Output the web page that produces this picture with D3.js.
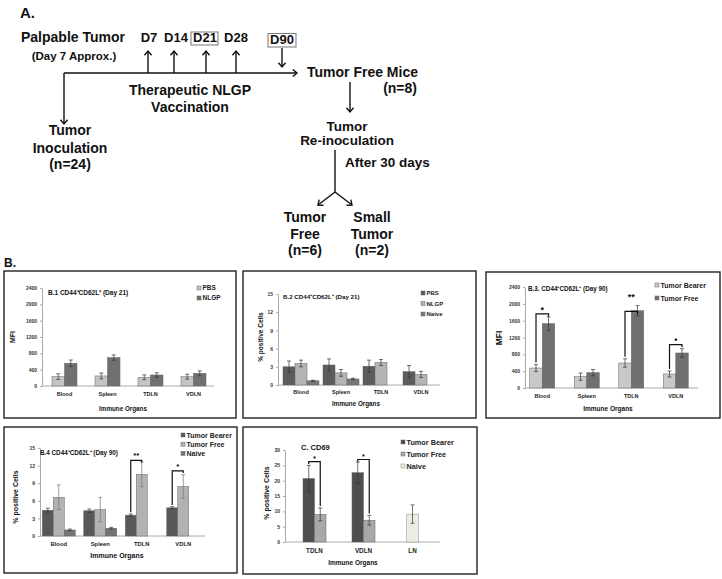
<!DOCTYPE html>
<html>
<head>
<meta charset="utf-8">
<script src="https://cdn.jsdelivr.net/npm/d3@7"></script>
<style>
  body { margin: 0; background: #fff; }
  svg { display: block; }
  text { font-family: "Liberation Sans", Arial, sans-serif; font-weight: bold; }
</style>
</head>
<body>
<svg id="fig" width="722" height="579"></svg>
<script>
// ---- data ----
const organs = ["Blood", "Spleen", "TDLN", "VDLN"];
const cd69Organs = ["TDLN", "VDLN", "LN"];

// B.1 MFI, day 21
const b1PBS = [230, 246, 213, 229];
const b1PBSErr = [70, 70, 60, 60];
const b1NLGP = [557, 696, 270, 311];
const b1NLGPErr = [80, 65, 55, 60];

// B.2 % positive, day 21
const b2PBS = [3.0, 3.3, 3.1, 2.2];
const b2PBSErr = [0.95, 1.0, 1.0, 1.0];
const b2NLGP = [3.55, 2.0, 3.7, 1.75];
const b2NLGPErr = [0.55, 0.55, 0.5, 0.5];
const b2Naive = [0.7, 1.0, null, null];
const b2NaiveErr = [0.1, 0.12, null, null];

// B.3 MFI, day 90
const b3Bearer = [475, 269, 594, 333];
const b3BearerErr = [80, 87, 100, 72];
const b3Free = [1529, 364, 1837, 832];
const b3FreeErr = [160, 75, 120, 100];
const b3Sig = ["*", "", "**", "\u2022"];
const b3SigTop = [1760, null, 1820, 1030];
const b3SigLabelAt = [1790, null, 2090, 1060];

// B.4 % positive, day 90
const b4Bearer = [4.4, 4.3, 3.55, 4.8];
const b4BearerErr = [0.35, 0.3, 0.2, 0.2];
const b4Free = [6.6, 4.5, 10.5, 8.45];
const b4FreeErr = [2.1, 2.1, 2.1, 2.0];
const b4Naive = [1.03, 1.32, null, null];
const b4NaiveErr = [0.15, 0.15, null, null];
const b4Sig = ["", "", "**", "*"];
const b4SigTop = [null, null, 12.9, 11.1];
const b4SigLabelAt = [null, null, 13.3, 11.5];

// C CD69 % positive
const cBearer = [20.7, 22.6, null];
const cBearerErr = [4.3, 3.5, null];
const cFree = [9.0, 7.1, null];
const cFreeErr = [2.1, 1.6, null];
const cNaive = [null, null, 9.1];
const cNaiveErr = [null, null, 3.0];
const cSig = ["*", "*", ""];
const cSigTop = [26.2, 26.9, null];
const cSigLabelAt = [26.5, 27.2, null];

const svg = d3.select("#fig");

// ---------- panel A : timeline ----------
const A = svg.append("g");
function txt(x, y, s, fs, anchor) {
  return A.append("text").attr("x", x).attr("y", y).attr("font-size", fs)
    .attr("text-anchor", anchor || "start").attr("fill", "#111").text(s);
}
function arrow(x1, y1, x2, y2, head) {
  A.append("line").attr("x1", x1).attr("y1", y1).attr("x2", x2).attr("y2", y2)
    .attr("stroke", "#111").attr("stroke-width", 1.4);
  if (head === false) return;
  const ang = Math.atan2(y2 - y1, x2 - x1), L = 5.5, w = 0.7;
  const pts = [[x2 - L * Math.cos(ang - w), y2 - L * Math.sin(ang - w)], [x2, y2],
               [x2 - L * Math.cos(ang + w), y2 - L * Math.sin(ang + w)]];
  A.append("path").attr("d", d3.line()(pts)).attr("fill", "none")
    .attr("stroke", "#111").attr("stroke-width", 1.4);
}

txt(20, 18, "A.", 15);
txt(21, 42, "Palpable Tumor", 14);
txt(74, 60, "(Day 7 Approx.)", 11.5, "middle");

arrow(64, 73, 297, 73);
arrow(64, 73, 64, 124);
[148, 174, 206, 236].forEach(x => arrow(x, 73, x, 51));
arrow(282, 48, 282, 67);

const vaccDays = ["D7", "D14", "D21", "D28"];
[149, 176, 205, 236].forEach((x, i) => txt(x, 42, vaccDays[i], 13, "middle"));
A.append("rect").attr("x", 191).attr("y", 32).attr("width", 27).attr("height", 13)
  .attr("fill", "none").attr("stroke", "#777").attr("stroke-width", 1);
txt(282, 44, "D90", 13, "middle");
A.append("rect").attr("x", 268).attr("y", 33.5).attr("width", 28).attr("height", 13.5)
  .attr("fill", "none").attr("stroke", "#777").attr("stroke-width", 1);

txt(190, 95, "Therapeutic NLGP", 14, "middle");
txt(190, 112, "Vaccination", 14, "middle");

txt(70, 135, "Tumor", 14, "middle");
txt(70, 153, "Inoculation", 14, "middle");
txt(70, 169, "(n=24)", 14, "middle");

txt(307, 77, "Tumor Free Mice", 14);
txt(417, 93, "(n=8)", 14, "end");
arrow(350, 82, 350, 112);
txt(347, 131, "Tumor", 13.5, "middle");
txt(347, 145, "Re-inoculation", 13.5, "middle");
arrow(335, 150, 335, 192, false);
txt(345, 167, "After 30 days", 13.5);
arrow(335, 192, 318, 205);
arrow(335, 192, 352, 205);

txt(305, 222, "Tumor", 14, "middle");
txt(305, 239, "Free", 14, "middle");
txt(305, 255, "(n=6)", 14, "middle");
txt(372, 222, "Small", 14, "middle");
txt(372, 239, "Tumor", 14, "middle");
txt(372, 255, "(n=2)", 14, "middle");

txt(4, 267, "B.", 12);

// ---------- bar panels ----------
function barPanel(o) {
  const g = svg.append("g");
  g.append("rect").attr("x", o.box[0]).attr("y", o.box[1])
    .attr("width", o.box[2] - o.box[0]).attr("height", o.box[3] - o.box[1])
    .attr("fill", "none").attr("stroke", "#222").attr("stroke-width", 1.4);

  const x = d3.scaleBand().domain(o.cats).range(o.band);
  const y = d3.scaleLinear().domain([0, o.yMax]).range([o.y0, o.y1]);
  const ns = o.series.length;

  const ya = g.append("g").attr("transform", `translate(${o.ax},0)`)
    .call(d3.axisLeft(y).tickValues(o.ticks).tickFormat(d3.format("d"))
      .tickSize(2).tickSizeOuter(0).tickPadding(3))
    .attr("font-size", o.tickFs).attr("color", "#333");
  ya.select(".domain").attr("stroke", "#aaa");
  ya.selectAll(".tick line").attr("stroke", "#aaa");

  g.append("line").attr("x1", o.ax).attr("x2", o.xEnd).attr("y1", y(0)).attr("y2", y(0))
    .attr("stroke", "#aaa").attr("stroke-width", 1);
  const xa = g.append("g").attr("transform", `translate(0,${y(0)})`)
    .call(d3.axisBottom(x).tickSize(0).tickPadding(o.catPad))
    .attr("font-size", o.catFs).attr("color", "#222");
  xa.select(".domain").remove();

  // bar slot position
  function barX(ci, si) {
    const c = x(o.cats[ci]) + x.bandwidth() / 2;
    if (o.compact) {
      const present = o.series.map((s, k) => k).filter(k => o.series[k].values[ci] != null);
      const idx = present.indexOf(si);
      return c - present.length * o.bw / 2 + idx * o.bw;
    }
    return c - ns * o.bw / 2 + si * o.bw;
  }

  o.series.forEach((s, si) => {
    const pts = o.cats.map((c, ci) => ({ ci, v: s.values[ci], e: s.errors[ci] }))
      .filter(d => d.v != null);
    g.selectAll(null).data(pts).join("rect")
      .attr("x", d => barX(d.ci, si)).attr("width", o.bw)
      .attr("y", d => y(d.v)).attr("height", d => y(0) - y(d.v))
      .attr("fill", s.color).attr("stroke", s.stroke || "#666").attr("stroke-width", 0.5);
    const eb = g.selectAll(null).data(pts).join("g")
      .attr("stroke", s.errColor || "#333").attr("stroke-width", 0.7);
    eb.append("line").attr("x1", d => barX(d.ci, si) + o.bw / 2).attr("x2", d => barX(d.ci, si) + o.bw / 2)
      .attr("y1", d => y(d.v - d.e)).attr("y2", d => y(d.v + d.e));
    eb.append("line").attr("x1", d => barX(d.ci, si) + o.bw / 2 - 2).attr("x2", d => barX(d.ci, si) + o.bw / 2 + 2)
      .attr("y1", d => y(d.v + d.e)).attr("y2", d => y(d.v + d.e));
    eb.append("line").attr("x1", d => barX(d.ci, si) + o.bw / 2 - 2).attr("x2", d => barX(d.ci, si) + o.bw / 2 + 2)
      .attr("y1", d => y(d.v - d.e)).attr("y2", d => y(d.v - d.e));
  });

  // significance brackets: long leg on series `from`, short leg on series `to`
  if (o.sig) {
    o.sig.labels.forEach((lab, ci) => {
      const top = o.sig.tops[ci];
      if (top == null) return;
      const a = o.series[o.sig.from];
      const xa0 = barX(ci, o.sig.from) + o.bw / 2, xb0 = barX(ci, o.sig.to) + o.bw / 2;
      const legBottom = a.values[ci] + a.errors[ci] + o.yMax * 0.02;
      const shortBottom = top - o.yMax * 0.025;
      g.append("path")
        .attr("d", d3.line()([[xa0, y(legBottom)], [xa0, y(top)], [xb0, y(top)], [xb0, y(shortBottom)]]))
        .attr("fill", "none").attr("stroke", "#111").attr("stroke-width", 1.2);
      g.append("text").attr("x", (xa0 + xb0) / 2).attr("y", y(o.sig.at[ci]))
        .attr("text-anchor", "middle").attr("font-size", o.sig.fs).attr("fill", "#111").text(lab);
    });
  }

  g.append("text").attr("x", o.title[0]).attr("y", o.title[1]).attr("font-size", o.titleFs)
    .attr("fill", "#111").text(o.titleText);

  o.series.forEach((s, i) => {
    const ly = o.legend[1] + i * o.legend[2];
    g.append("rect").attr("x", o.legend[0]).attr("y", ly - 2).attr("width", 4).attr("height", 4)
      .attr("fill", s.color).attr("stroke", s.stroke || "#666").attr("stroke-width", 0.5);
    g.append("text").attr("x", o.legend[0] + 5.5).attr("y", ly + o.legendFs * 0.36)
      .attr("font-size", o.legendFs).attr("fill", "#222").text(s.name);
  });

  g.append("text").attr("transform", `translate(${o.yLabel[0]},${o.yLabel[1]}) rotate(-90)`)
    .attr("text-anchor", "middle").attr("font-size", o.yLabelFs).attr("fill", "#111").text(o.yLabelText);
  g.append("text").attr("x", o.xLabel[0]).attr("y", o.xLabel[1]).attr("text-anchor", "middle")
    .attr("font-size", o.xLabelFs).attr("fill", "#111").text("Immune Organs");
}

const ticksMFI = d3.range(0, 2401, 400);
const ticksPct = d3.range(0, 16, 3);

barPanel({
  box: [4, 271, 236, 418], ax: 42, band: [43, 215], xEnd: 214, y0: 386, y1: 288, yMax: 2400,
  ticks: ticksMFI, tickFs: 5, cats: organs, catFs: 5.5, catPad: 6, bw: 12.5,
  series: [
    { name: "PBS", color: "#c4c4c4", values: b1PBS, errors: b1PBSErr },
    { name: "NLGP", color: "#707070", values: b1NLGP, errors: b1NLGPErr }
  ],
  titleText: "B.1 CD44\u207ACD62L\u207A (Day 21)", title: [48, 295], titleFs: 6.5,
  legend: [197, 288, 10], legendFs: 6.5,
  yLabelText: "MFI", yLabel: [15, 337], yLabelFs: 7,
  xLabel: [123, 411], xLabelFs: 6.3
});

barPanel({
  box: [243, 271, 476, 418], ax: 278, band: [281, 441], xEnd: 440, y0: 385, y1: 294, yMax: 15,
  ticks: ticksPct, tickFs: 5, cats: organs, catFs: 5.5, catPad: 5, bw: 12,
  series: [
    { name: "PBS", color: "#5c5c5c", values: b2PBS, errors: b2PBSErr },
    { name: "NLGP", color: "#b4b4b4", values: b2NLGP, errors: b2NLGPErr },
    { name: "Naive", color: "#787878", values: b2Naive, errors: b2NaiveErr }
  ],
  titleText: "B.2 CD44\u207ACD62L\u207A  (Day 21)", title: [283, 299], titleFs: 6.2,
  legend: [421, 293, 10.5], legendFs: 6,
  yLabelText: "% positive Cells", yLabel: [263, 337], yLabelFs: 6.5,
  xLabel: [356, 406], xLabelFs: 6.3
});

barPanel({
  box: [486, 272, 720, 418], ax: 525, band: [520, 698], xEnd: 698, y0: 388, y1: 287, yMax: 2400,
  ticks: ticksMFI, tickFs: 5, cats: organs, catFs: 5.5, catPad: 6.5, bw: 12.5,
  series: [
    { name: "Tumor Bearer", color: "#c8c8c8", values: b3Bearer, errors: b3BearerErr },
    { name: "Tumor Free", color: "#707070", values: b3Free, errors: b3FreeErr }
  ],
  sig: { labels: b3Sig, tops: b3SigTop, at: b3SigLabelAt, from: 0, to: 1, fs: 9 },
  titleText: "B.3. CD44\u207ACD62L\u207A (Day 90)", title: [528, 291], titleFs: 6.3,
  legend: [655, 285, 13], legendFs: 7,
  yLabelText: "MFI", yLabel: [502, 338], yLabelFs: 8.5,
  xLabel: [608, 411], xLabelFs: 6.5
});

barPanel({
  box: [4, 427, 237, 573], ax: 40, band: [38, 204], xEnd: 205, y0: 536, y1: 448, yMax: 15,
  ticks: ticksPct, tickFs: 5, cats: organs, catFs: 5.8, catPad: 5.5, bw: 11,
  series: [
    { name: "Tumor Bearer", color: "#585858", values: b4Bearer, errors: b4BearerErr },
    { name: "Tumor Free", color: "#b2b2b2", values: b4Free, errors: b4FreeErr, errColor: "#777" },
    { name: "Naive", color: "#747474", values: b4Naive, errors: b4NaiveErr }
  ],
  sig: { labels: b4Sig, tops: b4SigTop, at: b4SigLabelAt, from: 0, to: 1, fs: 8 },
  titleText: "B.4 CD44\u207ACD62L\u207A  (Day 90)", title: [40, 455], titleFs: 6.3,
  legend: [181, 435, 9.2], legendFs: 7,
  yLabelText: "% positive Cells", yLabel: [18, 497], yLabelFs: 7,
  xLabel: [117, 558], xLabelFs: 7
});

barPanel({
  box: [243, 427, 477, 574], ax: 285, band: [290, 437], xEnd: 440, y0: 542, y1: 450, yMax: 30,
  ticks: d3.range(0, 31, 5), tickFs: 5, cats: cd69Organs, catFs: 6.3, catPad: 6.5, bw: 11.5, compact: true,
  series: [
    { name: "Tumor Bearer", color: "#4e4e4e", values: cBearer, errors: cBearerErr },
    { name: "Tumor Free", color: "#a8a8a8", values: cFree, errors: cFreeErr },
    { name: "Naive", color: "#eeece1", stroke: "#888", values: cNaive, errors: cNaiveErr }
  ],
  sig: { labels: cSig, tops: cSigTop, at: cSigLabelAt, from: 1, to: 0, fs: 7.5 },
  titleText: "C. CD69", title: [301, 450], titleFs: 7.5,
  legend: [401, 442, 12], legendFs: 7.3,
  yLabelText: "% positive Cells", yLabel: [269, 493], yLabelFs: 7,
  xLabel: [353, 565], xLabelFs: 6.5
});
</script>
</body>
</html>
